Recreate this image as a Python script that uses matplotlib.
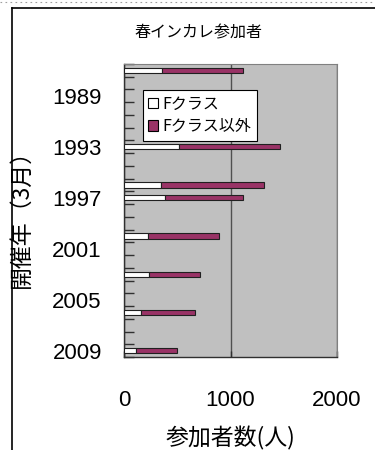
import matplotlib
matplotlib.use("Agg")
import matplotlib.pyplot as plt
from matplotlib.patches import Patch
from matplotlib.lines import Line2D

plt.rcParams['font.family'] = ['Liberation Sans', 'Noto Sans CJK JP', 'DejaVu Sans']

# ---- data ----
categories = list(range(1987, 2010))          # category axis (one slot per year)
years = [1987, 1993, 1996, 1997, 2000, 2003, 2006, 2009]
f_class = [354, 513, 347, 388, 228, 235, 160, 110]
non_f_class = [760, 952, 970, 726, 664, 481, 507, 390]
label_years = [1989, 1993, 1997, 2001, 2005, 2009]
x_ticks = [0, 1000, 2000]

title = "春インカレ参加者"
xlabel = "参加者数(人)"
ylabel = "開催年（3月）"
legend_labels = ["Fクラス", "Fクラス以外"]

WHITE = "#FFFFFF"
PURPLE = "#993366"
PLOT_BG = "#C0C0C0"
CJK = ['Noto Sans CJK JP', 'DejaVu Sans']

fig = plt.figure(figsize=(3.75, 4.5), dpi=100)
ax = fig.add_axes([124 / 375, 93 / 450, 213 / 375, 293 / 450])
ax.set_facecolor(PLOT_BG)

pos = [categories.index(y) for y in years]
h = 0.42
ax.barh(pos, f_class, height=h, color=WHITE, edgecolor="#202020", linewidth=0.8, zorder=3)
ax.barh(pos, non_f_class, left=f_class, height=h, color=PURPLE, edgecolor="#202020",
        linewidth=0.8, zorder=3)

ax.set_xlim(0, 2000)
ax.set_ylim(len(categories) - 0.5, -0.5)

# vertical gridline
ax.xaxis.grid(True, color="#505050", linewidth=1.0, zorder=1)
ax.set_axisbelow(True)

ax.set_xticks(x_ticks)
ax.set_xticklabels([str(v) for v in x_ticks], fontsize=16)
ax.tick_params(axis='x', direction='in', length=4, pad=24, width=1, color="#303030")

ax.set_yticks([categories.index(y) for y in label_years])
ax.set_yticklabels([str(y) for y in label_years], fontsize=16)
ax.set_yticks([i - 0.5 for i in range(len(categories) + 1)], minor=True)
ax.tick_params(axis='y', which='major', length=0, pad=16)
ax.tick_params(axis='y', which='minor', direction='in', length=7, width=1, color="#303030")

for s in ['top', 'right']:
    ax.spines[s].set_color("#808080")
    ax.spines[s].set_linewidth(0.8)
for s in ['left', 'bottom']:
    ax.spines[s].set_color("#303030")
    ax.spines[s].set_linewidth(1.0)

ax.set_xlabel(xlabel, fontsize=16.5, family=CJK)
ax.xaxis.set_label_coords(0.5, -0.235)
ax.set_ylabel(ylabel, fontsize=16.5, family=CJK)
ax.yaxis.set_label_coords(-0.43, 0.49)

fig.text(198 / 375, 1 - 33 / 450, title, fontsize=11.5, family=CJK, ha='center', va='center')

handles = [Patch(facecolor=WHITE, edgecolor="black", linewidth=0.8),
           Patch(facecolor=PURPLE, edgecolor="black", linewidth=0.8)]
leg = ax.legend(handles, legend_labels, loc='upper left',
                bbox_to_anchor=((142.7 - 124) / 213, (357 - 90) / 293),
                prop={'family': CJK, 'size': 11.5}, frameon=True, fancybox=False,
                edgecolor="black", framealpha=1, borderpad=0.35, handlelength=0.6,
                handleheight=0.6, handletextpad=0.3, labelspacing=0.35, borderaxespad=0)
leg.get_frame().set_linewidth(0.8)
leg.set_zorder(5)

# chart-area frame and top dotted line
fig.add_artist(Line2D([12 / 375, 12 / 375], [0, 1 - 8 / 450], transform=fig.transFigure,
                      color="black", linewidth=1.2))
fig.add_artist(Line2D([12 / 375, 1], [1 - 8 / 450, 1 - 8 / 450], transform=fig.transFigure,
                      color="black", linewidth=1.2))
fig.add_artist(Line2D([0, 1], [1 - 2 / 450, 1 - 2 / 450], transform=fig.transFigure,
                      color="#A0A0A0", linewidth=0.8, linestyle=(0, (1.5, 3))))

fig.savefig("out.png", dpi=100)
